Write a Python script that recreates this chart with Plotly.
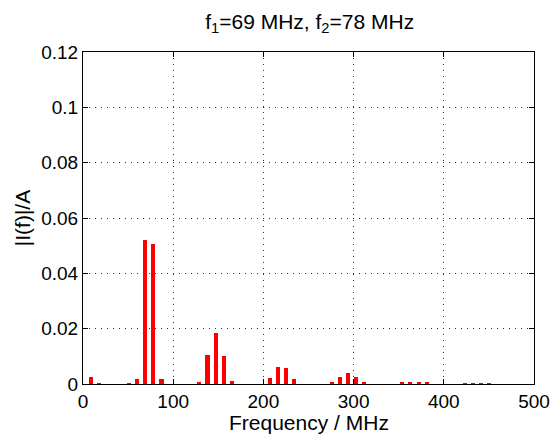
import plotly.graph_objects as go

freqs = [9, 18, 51, 60, 69, 78, 87, 129, 138, 147, 156, 165, 207, 216, 225, 234,
         276, 285, 294, 303, 312, 354, 363, 372, 381, 423, 432, 441, 450]
amps = [0.0025, 0.0003, 0.0002, 0.0017, 0.052, 0.0506, 0.0019, 0.0009, 0.0104, 0.0185,
        0.0100, 0.0010, 0.0021, 0.0060, 0.0059, 0.0018, 0.0007, 0.0025, 0.0039, 0.0024,
        0.0006, 0.0004, 0.0007, 0.0007, 0.0004, 0.0001, 0.0001, 0.0001, 0.0001]
x_ticks = [0, 100, 200, 300, 400, 500]
y_ticks = [0, 0.02, 0.04, 0.06, 0.08, 0.1, 0.12]
y_tick_labels = ["0", "0.02", "0.04", "0.06", "0.08", "0.1", "0.12"]

font = "Liberation Sans, Arial, Helvetica, sans-serif"
fs = 19
ft = 21

fig = go.Figure()
fig.add_trace(go.Bar(x=freqs, y=amps, width=4.5, marker=dict(color="#ff0000", line=dict(width=0))))

fig.update_layout(
    width=555, height=435,
    paper_bgcolor="white", plot_bgcolor="white",
    margin=dict(l=83, r=21, t=52, b=51, autoexpand=False),
    showlegend=False,
    font=dict(family=font, size=fs, color="black"),
    title=dict(text="f<sub>1</sub>=69 MHz, f<sub>2</sub>=78 MHz", x=0.558, xanchor="center",
               y=0.968, yanchor="top", font=dict(size=ft)),
    bargap=0,
    annotations=[dict(text="Frequency / MHz", xref="paper", yref="paper", x=0.5, y=0,
                      xanchor="center", yanchor="top", yshift=-25, showarrow=False,
                      font=dict(size=ft))],
)
fig.update_xaxes(
    range=[0, 500], tickvals=x_ticks, ticktext=[str(v) for v in x_ticks],
    showgrid=True, gridcolor="#333", griddash="1px,5px", gridwidth=1,
    showline=True, linecolor="black", linewidth=1, mirror="ticks",
    ticks="inside", ticklen=5, tickcolor="black",
    zeroline=False, tickfont=dict(size=fs), automargin=False,
)
fig.update_yaxes(
    range=[0, 0.12], tickvals=y_ticks, ticktext=y_tick_labels,
    showgrid=True, gridcolor="#333", griddash="1px,5px", gridwidth=1,
    showline=True, linecolor="black", linewidth=1, mirror="ticks",
    ticks="inside", ticklen=5, tickcolor="black",
    zeroline=False, tickfont=dict(size=fs), automargin=False,
    title=dict(text="|I(f)|/A", font=dict(size=ft), standoff=4),
)

fig.write_html("out.html", config={"displayModeBar": False},
               post_script="document.body.style.margin='0';")
